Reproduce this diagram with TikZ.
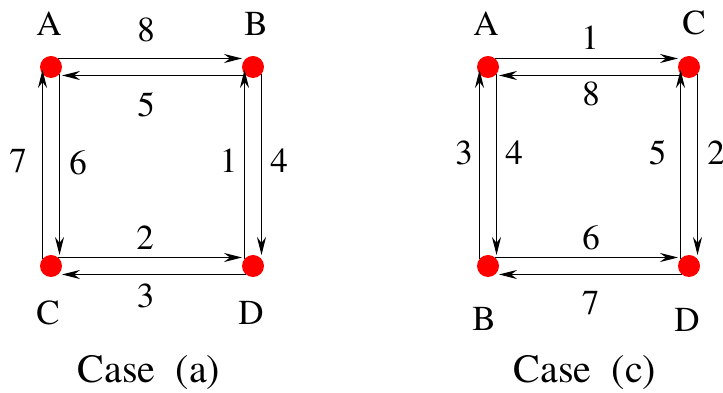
\documentclass[tikz,border=0pt]{standalone}
\usepackage{fontspec}
\setmainfont{texgyretermes-regular.otf}
\usetikzlibrary{arrows.meta,positioning}

\begin{document}
\begin{tikzpicture}[x=1pt, y=1pt, on grid,
  dot/.style={circle, fill=red, minimum size=22pt, inner sep=0pt, outer sep=0pt},
  lbl/.style={inner sep=0pt, font=\fontsize{35}{38}\selectfont},
  casetext/.style={inner sep=0pt, anchor=base, font=\fontsize{40}{44}\selectfont},
  arr/.style={-{Stealth[length=18pt, width=9pt, inset=6pt]}, line width=1pt}
]
\useasboundingbox (0,0) rectangle (723,393);

% case (a)
\node[dot] (aA) at (51,326) {};
\node[dot, right=202pt of aA] (aB) {};
\node[dot, below=199pt of aA] (aC) {};
\node[dot, below=199pt of aB] (aD) {};
\node[lbl, above=43pt of aA, xshift=-2pt] (aAl) {A};
\node[lbl, above=43pt of aB, xshift=3pt] (aBl) {B};
\node[lbl, below=47pt of aC, xshift=-3pt] (aCl) {C};
\node[lbl, below=47pt of aD, xshift=-2pt] (aDl) {D};

\draw[arr] ([shift={(7pt,8.5pt)}]aA.center) -- ([yshift=8.5pt]aB.west);
\draw[arr] ([shift={(-7pt,-8.5pt)}]aB.center) -- ([yshift=-8.5pt]aA.east);
\draw[arr] ([shift={(-8.5pt,7pt)}]aC.center) -- ([shift={(-8.5pt,-3pt)}]aA.center);
\draw[arr] ([shift={(8.5pt,-7pt)}]aA.center) -- ([xshift=8.5pt]aC.north);
\draw[arr] ([shift={(-8.5pt,7pt)}]aD.center) -- ([shift={(-8.5pt,-3pt)}]aB.center);
\draw[arr] ([shift={(8.5pt,-7pt)}]aB.center) -- ([xshift=8.5pt]aD.north);
\draw[arr] ([shift={(7pt,8.5pt)}]aC.center) -- ([yshift=8.5pt]aD.west);
\draw[arr] ([shift={(-7pt,-8.5pt)}]aD.center) -- ([yshift=-8.5pt]aC.east);

\node[lbl] (a8) at (146,363.5) {8};
\node[lbl] (a5) at (146,288) {5};
\node[lbl] (a7) at (18,232) {7};
\node[lbl] (a6) at (78,230) {6};
\node[lbl] (a1) at (228.5,232) {1};
\node[lbl] (a4) at (279,232) {4};
\node[lbl] (a2) at (145,155.5) {2};
\node[lbl] (a3) at (145.5,97) {3};
\node[casetext] (casea) at (149,10) {Case~~(a)};

% case (c)
\node[dot] (cA) at (488,326) {};
\node[dot, right=201pt of cA] (cC) {};
\node[dot, below=199pt of cA] (cB) {};
\node[dot, below=199pt of cC] (cD) {};
\node[lbl, above=43pt of cA, xshift=-2pt] (cAl) {A};
\node[lbl, above=44pt of cC, xshift=5pt] (cCl) {C};
\node[lbl, below=53pt of cB, xshift=-4pt] (cBl) {B};
\node[lbl, below=54pt of cD, xshift=-2pt] (cDl) {D};

\draw[arr] ([shift={(7pt,8.5pt)}]cA.center) -- ([yshift=8.5pt]cC.west);
\draw[arr] ([shift={(-7pt,-8.5pt)}]cC.center) -- ([yshift=-8.5pt]cA.east);
\draw[arr] ([shift={(-8.5pt,7pt)}]cB.center) -- ([shift={(-8.5pt,-3pt)}]cA.center);
\draw[arr] ([shift={(8.5pt,-7pt)}]cA.center) -- ([xshift=8.5pt]cB.north);
\draw[arr] ([shift={(-8.5pt,7pt)}]cD.center) -- ([shift={(-8.5pt,-3pt)}]cC.center);
\draw[arr] ([shift={(8.5pt,-7pt)}]cC.center) -- ([xshift=8.5pt]cD.north);
\draw[arr] ([shift={(7pt,8.5pt)}]cB.center) -- ([yshift=8.5pt]cD.west);
\draw[arr] ([shift={(-7pt,-8.5pt)}]cD.center) -- ([yshift=-8.5pt]cB.east);

\node[lbl] (c1) at (590,355.5) {1};
\node[lbl] (c8) at (591,299) {8};
\node[lbl] (c3) at (464,240) {3};
\node[lbl] (c4) at (514,240) {4};
\node[lbl] (c5) at (657.5,240) {5};
\node[lbl] (c2) at (716,240) {2};
\node[lbl] (c6) at (591,155) {6};
\node[lbl] (c7) at (590.5,89.5) {7};
\node[casetext] (casec) at (585,10) {Case~~(c)};
\end{tikzpicture}
\end{document}
